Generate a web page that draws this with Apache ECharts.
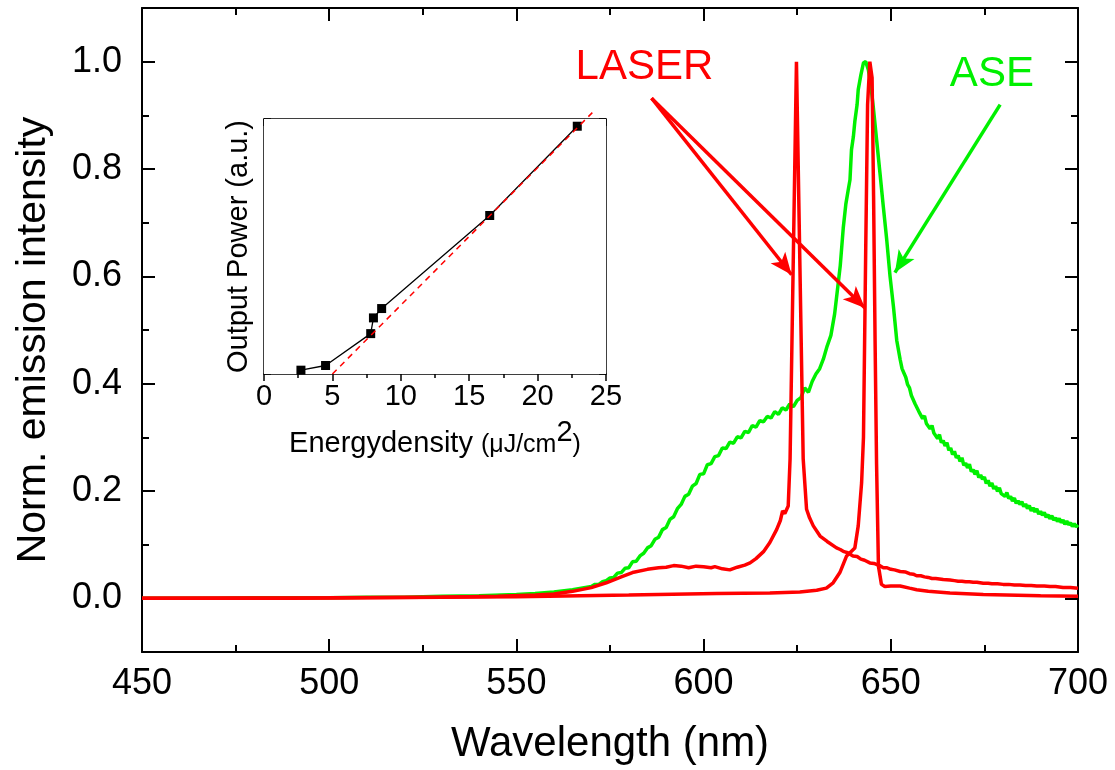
<!DOCTYPE html>
<html><head><meta charset="utf-8">
<script src="https://cdn.jsdelivr.net/npm/echarts@6/dist/echarts.min.js"></script>
<style>html,body{margin:0;padding:0;background:#fff}#c{width:1115px;height:770px}</style>
</head><body><div id="c"></div><script>
// ---- main spectra: [wavelength nm, normalized intensity]
var aseSpectrum = [
[450,0.0],[460,0.0],[470,0.0],[480,0.001],[490,0.001],[500,0.001],[510,0.002],[520,0.002],[530,0.004],[540,0.005],[550,0.007],[555,0.009],[560,0.012],[565,0.016],
[570,0.022],[571,0.026],[572,0.026],[573,0.031],[574,0.033],[575,0.038],[576,0.039],[577,0.047],[578,0.048],[579,0.056],[580,0.057],
[581,0.068],[582,0.069],[583,0.079],[584,0.084],[585,0.094],[586,0.098],[587,0.110],[588,0.114],[589,0.128],[590,0.132],
[591,0.147],[592,0.152],[593,0.167],[594,0.175],[595,0.190],[596,0.194],[597,0.209],[598,0.214],[599,0.231],[600,0.232],
[601,0.249],[602,0.251],[603,0.264],[604,0.266],[605,0.280],[606,0.279],[607,0.291],[608,0.289],[609,0.301],[610,0.299],
[611,0.311],[612,0.309],[613,0.322],[614,0.319],[615,0.331],[616,0.329],[617,0.339],[618,0.336],[619,0.348],[620,0.343],
[621,0.355],[622,0.351],[623,0.362],[624,0.357],[625,0.369],[626,0.374],[627,0.392],[628,0.384],[629,0.404],[630,0.418],
[631,0.428],[632,0.446],[633,0.470],[634,0.490],[635,0.530],[636,0.590],[636.5,0.620],[637.3,0.690],[638,0.735],[638.6,0.760],
[639.1,0.780],[639.5,0.836],[640,0.860],[640.4,0.889],[641,0.920],[641.3,0.948],[642,0.975],[642.7,0.998],[643.3,1.0],[644,0.985],
[644.6,0.960],[645.3,0.917],[646.2,0.855],[647.1,0.793],[648,0.730],[648.9,0.669],[649.8,0.600],[650.7,0.544],[651.6,0.480],[652.5,0.445],
[653,0.428],[653.5,0.420],[654,0.412],[654.5,0.398],[655,0.392],[655.5,0.378],[656,0.378],[656.5,0.362],[657,0.362],[657.5,0.348],
[658,0.349],[658.5,0.335],[659,0.340],[659.5,0.326],[660,0.328],[660.5,0.316],[661,0.322],[661.5,0.308],[662,0.310],[662.5,0.298],
[663,0.305],[663.5,0.290],[664,0.294],[664.5,0.284],[665,0.290],[665.5,0.276],[666,0.280],[666.5,0.268],[667,0.274],[667.5,0.262],
[668,0.266],[668.5,0.255],[669,0.262],[669.5,0.248],[670,0.252],[670.5,0.243],[671,0.250],[671.5,0.236],[672,0.240],[672.5,0.231],
[673,0.238],[673.5,0.225],[674,0.230],[674.5,0.222],[675,0.226],[675.5,0.214],[676,0.220],[676.5,0.209],[677,0.215],[677.5,0.204],
[678,0.209],[678.5,0.199],[679,0.206],[679.5,0.195],[680,0.198],[680.5,0.190],[681,0.197],[681.5,0.186],[682,0.190],[682.5,0.181],
[683,0.187],[683.5,0.177],[684,0.182],[684.5,0.175],[685,0.180],[685.5,0.171],[686,0.176],[686.5,0.167],[687,0.173],[687.5,0.163],
[688,0.169],[688.5,0.161],[689,0.167],[689.5,0.157],[690,0.162],[690.5,0.155],[691,0.160],[691.5,0.151],[692,0.156],[692.5,0.148],
[693,0.154],[693.5,0.146],[694,0.150],[694.5,0.143],[695,0.149],[695.5,0.141],[696,0.146],[696.5,0.138],[697,0.144],[697.5,0.137],
[698,0.141],[698.5,0.134],[699,0.139],[699.5,0.133],[700,0.137]
];
var laser625Spectrum = [
[450,0.0],[470,0.0],[490,0.0],[510,0.001],[530,0.002],[545,0.004],[555,0.006],[560,0.008],[565,0.013],[570,0.020],[574,0.029],
[578,0.040],[581,0.048],[585,0.054],[588,0.057],[590,0.058],[592,0.061],[594,0.060],[596,0.057],[598,0.060],[600,0.059],[602,0.057],
[603,0.059],[605,0.055],[607,0.053],[609,0.058],[611,0.062],[612.4,0.066],[614,0.074],[616,0.087],[617.7,0.104],[619.5,0.128],
[620.5,0.145],[621.1,0.163],[621.7,0.158],[622.6,0.172],[623.1,0.26],[624.8,1.0],[626.6,0.26],[627.5,0.166],[628.3,0.150],
[629.3,0.135],[631.1,0.116],[633,0.106],[635.5,0.094],[636.5,0.091],[637.5,0.087],[638.5,0.085],[639.9,0.079],[641,0.078],[642,0.073],
[643,0.071],[644.4,0.066],[645.5,0.065],[646,0.062],[647,0.061],[648,0.057],[649,0.057],[650,0.054],[651,0.053],[652.5,0.050],
[654,0.049],[655,0.046],[656,0.045],[656.9,0.042],[658,0.042],[659,0.040],[660,0.039],[661,0.037],[662,0.037],[663,0.036],
[664,0.035],[665.8,0.034],[667,0.033],[668,0.032],[669,0.032],[670,0.031],[671,0.031],[672,0.030],[673,0.030],[674.7,0.028],
[676,0.028],[677,0.027],[678.5,0.027],[680,0.026],[681.5,0.026],[683,0.025],[684.5,0.025],[686,0.024],[687.5,0.024],[689,0.023],
[691,0.023],[692.5,0.022],[694,0.022],[696,0.020],[698,0.020],[700,0.019]
];
var laser645Spectrum = [
[450,0.0],[500,0.001],[550,0.003],[580,0.006],[603.5,0.009],[617.7,0.010],[625.7,0.012],[630.2,0.015],[632.8,0.019],[634.6,0.029],
[636.4,0.048],[638.2,0.079],[640.4,0.094],[641.3,0.135],[642.2,0.215],[642.7,0.30],[643.3,0.65],[643.8,0.92],[644.4,1.0],[645.0,0.97],
[645.4,0.75],[645.8,0.48],[646.2,0.25],[646.7,0.06],[647.5,0.026],[648.4,0.022],[650,0.023],[652.5,0.023],[655,0.019],[656.9,0.016],
[660,0.013],[665.8,0.010],[674.7,0.007],[690,0.005],[700,0.004]
];
// ---- axis ticks
var xTicks = [450,500,550,600,650,700];
var yMajorTicks = [0,0.2,0.4,0.6,0.8,1.0];
var yMinorTicks = [0.1,0.3,0.5,0.7,0.9];
// ---- inset: output power vs energy density
var energyDensity = [2.7,4.5,7.8,8.0,8.6,16.5,22.9];
var outputPower = [0.09,0.20,0.95,1.32,1.54,3.73,5.83];
var fitLine = [[5.0,0],[24.0,6.15]];
// ---- annotations (data coordinates)
var laserLabelAt = [584.2,0.989];
var aseLabelAt = [677.0,0.976];
var laserArrows = [[[586.1,0.932],[623.5,0.603]],[[586.1,0.932],[643.1,0.541]]];
var aseArrows = [[[679.2,0.92],[651.1,0.607]]];

var FF = 'Liberation Sans, Arial, sans-serif';
var chart = echarts.init(document.getElementById('c'), null, {renderer:'canvas'});
var blk = '#000';
var GREEN = '#00f000', RED = '#ff0000';
function mainX(pos, labels){
  return {gridIndex:0, type:'value', position:pos, min:450, max:700, interval:50,
    axisLine:{onZero:false, lineStyle:{color:blk,width:2}},
    axisTick:{inside:true,length:13,lineStyle:{color:blk,width:2}},
    minorTick:{show:true,splitNumber:2,length:7,lineStyle:{color:blk,width:2}},
    splitLine:{show:false},
    axisLabel:{show:labels,fontSize:36,color:blk,fontFamily:FF,margin:14},
    name: labels?'Wavelength (nm)':'', nameLocation:'middle', nameGap:71,
    nameTextStyle:{fontSize:42,color:blk,fontFamily:FF}
  };
}
function mainY(pos, major, labels){
  return {gridIndex:0, type:'value', position:pos, min:-0.1, max:1.1,
    axisLine:{show:major, onZero:false, lineStyle:{color:blk,width:2}},
    axisTick:{inside:true,length:major?13:7,customValues:major?yMajorTicks:yMinorTicks,lineStyle:{color:blk,width:2}},
    splitLine:{show:false},
    axisLabel:{show:labels,customValues:yMajorTicks,fontSize:36,color:blk,fontFamily:FF,margin:20,
      formatter:function(v){return (+v).toFixed(1);}},
    name: labels?'Norm. emission intensity':'', nameLocation:'middle', nameGap:88,
    nameTextStyle:{fontSize:41,color:blk,fontFamily:FF,padding:[0,20,0,0]}
  };
}
function insetX(pos, labels){
  return {gridIndex:1, type:'value', position:pos, min:0, max:25, interval:5,
    axisLine:{onZero:false, lineStyle:{color:blk,width:1.5}},
    axisTick:{inside:!labels,length:7,lineStyle:{color:blk,width:1.5}},
    minorTick:{show:true,splitNumber:2,length:4,lineStyle:{color:blk,width:1.5}},
    splitLine:{show:false},
    axisLabel:{show:labels,fontSize:29,color:blk,fontFamily:FF,margin:8},
    name: labels?'{a|Energydensity }{b|(μJ/cm}{c|2}{b|)}':'', nameLocation:'middle', nameGap:44,
    nameTextStyle:{color:blk,fontFamily:FF, rich:{
      a:{fontSize:29,color:blk,fontFamily:FF,verticalAlign:'bottom'},
      b:{fontSize:25,color:blk,fontFamily:FF,verticalAlign:'bottom'},
      c:{fontSize:29,color:blk,fontFamily:FF,verticalAlign:'bottom',padding:[0,0,11,0]}
    }}
  };
}
function insetY(pos, labels){
  return {gridIndex:1, type:'value', position:pos, min:0, max:6, interval:1,
    axisLine:{onZero:false, lineStyle:{color:blk,width:1.5}},
    axisTick:{inside:true,length:7,lineStyle:{color:blk,width:1.5}},
    minorTick:{show:true,splitNumber:2,length:4,lineStyle:{color:blk,width:1.5}},
    splitLine:{show:false},
    axisLabel:{show:false},
    name: labels?'Output Power (a.u.)':'', nameLocation:'middle', nameGap:11,
    nameTextStyle:{fontSize:29,color:blk,fontFamily:FF}
  };
}
function arrowData(list){
  return list.map(function(a){return [{coord:a[0]},{coord:a[1]}];});
}
var option = {
  animation:false,
  backgroundColor:'#fff',
  grid:[
    {left:142, top:8, width:936, height:644},
    {left:264, top:119, width:342, height:255, show:true, backgroundColor:'#fff', borderWidth:0, z:3}
  ],
  xAxis:[mainX('bottom',true), mainX('top',false), insetX('bottom',true), insetX('top',false)],
  yAxis:[mainY('left',true,true), mainY('left',false,false), mainY('right',true,false), mainY('right',false,false),
         insetY('left',true), insetY('right',false)],
  series:[
    {type:'line', xAxisIndex:0, yAxisIndex:0, data:aseSpectrum, showSymbol:false, symbol:'none',
     lineStyle:{color:GREEN,width:3.5}, z:2,
     markLine:{silent:true, symbol:['none','arrow'], symbolSize:[14,22],
       lineStyle:{color:GREEN,width:3.5,type:'solid'}, label:{show:false},
       data:arrowData(aseArrows)},
     markPoint:{silent:true, symbol:'circle', symbolSize:0,
       label:{show:true,position:'inside',formatter:'ASE',fontSize:42,color:GREEN,fontFamily:FF},
       data:[{coord:aseLabelAt}]}
    },
    {type:'line', xAxisIndex:0, yAxisIndex:0, data:laser625Spectrum, showSymbol:false, symbol:'none',
     lineStyle:{color:RED,width:3.5}, z:3,
     markLine:{silent:true, symbol:['none','arrow'], symbolSize:[14,22],
       lineStyle:{color:RED,width:3.5,type:'solid'}, label:{show:false},
       data:arrowData(laserArrows)},
     markPoint:{silent:true, symbol:'circle', symbolSize:0,
       label:{show:true,position:'inside',formatter:'LASER',fontSize:42,color:RED,fontFamily:FF},
       data:[{coord:laserLabelAt}]}
    },
    {type:'line', xAxisIndex:0, yAxisIndex:0, data:laser645Spectrum, showSymbol:false, symbol:'none',
     lineStyle:{color:RED,width:3.5}, z:3},
    {type:'line', xAxisIndex:2, yAxisIndex:4,
     data:energyDensity.map(function(e,i){return [e,outputPower[i]];}),
     symbol:'rect', symbolSize:9, itemStyle:{color:'#000'}, lineStyle:{color:'#000',width:1.3}, z:5},
    {type:'line', xAxisIndex:2, yAxisIndex:4, data:fitLine, symbol:'none', clip:false,
     lineStyle:{color:RED,width:1.5,type:[6,5]}, z:6}
  ]
};
chart.setOption(option);
</script></body></html>
